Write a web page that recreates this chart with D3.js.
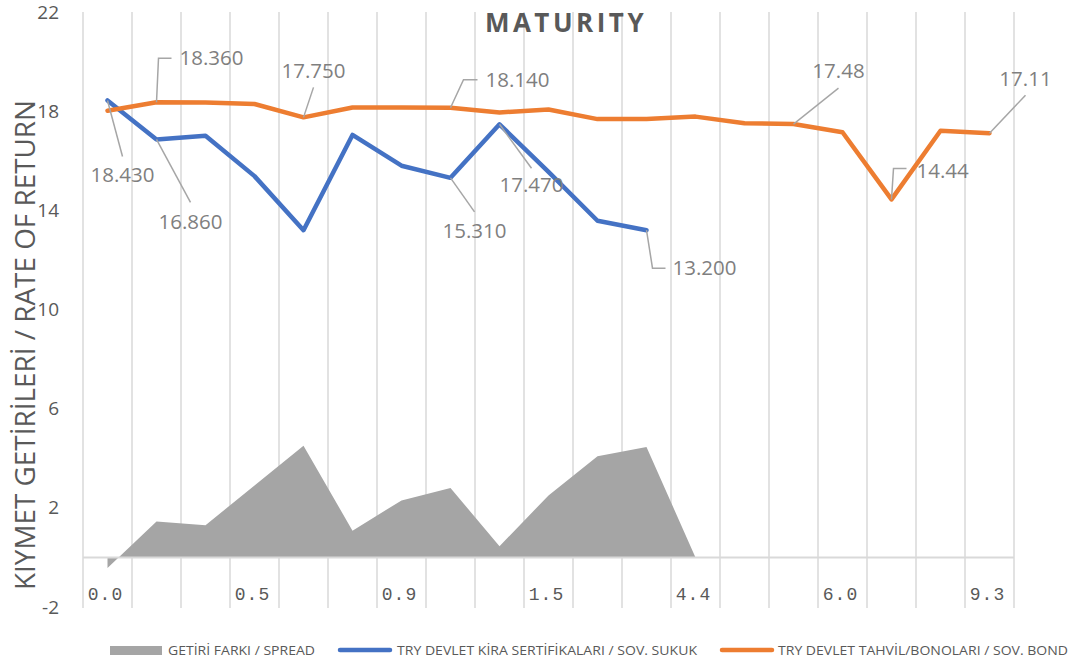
<!DOCTYPE html>
<html>
<head>
<meta charset="utf-8">
<script src="https://cdn.jsdelivr.net/npm/d3@7"></script>
<style>
  body { margin: 0; background: #fff; }
  svg { display: block; font-family: "Open Sans", sans-serif; }
</style>
</head>
<body>
<svg id="chart" width="1071" height="662"></svg>
<script>
// maturity tick labels, one per 3 categories
var tickLabels = ['0.0', '0.5', '0.9', '1.5', '4.4', '6.0', '9.3'];
var nCategories = 19;

var spread = [-0.43, 1.45, 1.3, 2.9, 4.5, 1.08, 2.3, 2.8, 0.45, 2.5, 4.08, 4.45, 0];
var sukuk = [18.43, 16.86, 17.01, 15.38, 13.2, 17.04, 15.8, 15.31, 17.47, 15.55, 13.58, 13.2];
var bond = [18.02, 18.36, 18.35, 18.29, 17.75, 18.15, 18.15, 18.14, 17.95, 18.07, 17.68, 17.68, 17.78, 17.51, 17.48, 17.15, 14.44, 17.21, 17.11];

var yTicks = [-2, 2, 6, 10, 14, 18, 22];

var legendNames = ['GETİRİ FARKI / SPREAD', 'TRY DEVLET KİRA SERTİFİKALARI / SOV. SUKUK', 'TRY DEVLET TAHVİL/BONOLARI / SOV. BOND'];

var colors = { spread: '#A5A5A5', sukuk: '#4472C4', bond: '#ED7D31' };

// data labels: which series/point, decimals, placement relative to the point
var dataLabels = [
  { s: 'sukuk', i: 0, dec: 3, dx: 15, dy: 74, anchor: 'middle', leader: [[0, 0], [15, 56]] },
  { s: 'sukuk', i: 1, dec: 3, dx: 34, dy: 82, anchor: 'middle', leader: [[0, 0], [34, 63]] },
  { s: 'bond', i: 1, dec: 3, dx: 23, dy: -44, anchor: 'start', leader: [[0, 0], [2, -44], [15, -44]] },
  { s: 'bond', i: 4, dec: 3, dx: 10, dy: -47, anchor: 'middle', leader: [[0, 0], [10, -30]] },
  { s: 'bond', i: 7, dec: 3, dx: 35, dy: -28, anchor: 'start', leader: [[0, 0], [13, -28], [27, -28]] },
  { s: 'sukuk', i: 7, dec: 3, dx: 24, dy: 53, anchor: 'middle', leader: [[0, 0], [24, 34]] },
  { s: 'sukuk', i: 8, dec: 3, dx: 32, dy: 61, anchor: 'middle', leader: [[0, 0], [32, 44]] },
  { s: 'sukuk', i: 11, dec: 3, dx: 26, dy: 38, anchor: 'start', leader: [[0, 0], [6, 38], [19, 38]] },
  { s: 'bond', i: 14, dec: 2, dx: 45, dy: -53, anchor: 'middle', leader: [[0, 0], [45, -36]] },
  { s: 'bond', i: 16, dec: 2, dx: 25, dy: -29, anchor: 'start', leader: [[0, 0], [2, -31], [15, -31]] },
  { s: 'bond', i: 18, dec: 2, dx: 36, dy: -54, anchor: 'middle', leader: [[0, 0], [36, -38]] }
];

var series = { spread: spread, sukuk: sukuk, bond: bond };

var svg = d3.select('#chart');

var x = d3.scaleBand()
  .domain(d3.range(nCategories))
  .range([83, 1014]);

var y = d3.scaleLinear()
  .domain([-2, 22])
  .range([607, 12]);

var cx = function(i) { return x(i) + x.bandwidth() / 2; };

// vertical gridlines at category borders
svg.append('g')
  .selectAll('line')
  .data(d3.range(nCategories + 1))
  .enter().append('line')
  .attr('x1', function(d) { return d < nCategories ? x(d) : x(nCategories - 1) + x.bandwidth(); })
  .attr('x2', function(d) { return d < nCategories ? x(d) : x(nCategories - 1) + x.bandwidth(); })
  .attr('y1', y(22))
  .attr('y2', y(-2) + 1)
  .attr('stroke', '#D9D9D9')
  .attr('stroke-width', 1.5);

// spread area
var area = d3.area()
  .x(function(d, i) { return cx(i); })
  .y0(y(0))
  .y1(function(d) { return y(d); });

svg.append('path')
  .datum(spread)
  .attr('d', area)
  .attr('fill', colors.spread);

// zero line
svg.append('line')
  .attr('x1', x(0))
  .attr('x2', x(nCategories - 1) + x.bandwidth())
  .attr('y1', y(0))
  .attr('y2', y(0))
  .attr('stroke', '#D9D9D9')
  .attr('stroke-width', 2);

var line = d3.line()
  .x(function(d, i) { return cx(i); })
  .y(function(d) { return y(d); });

['sukuk', 'bond'].forEach(function(k) {
  svg.append('path')
    .datum(series[k])
    .attr('d', line)
    .attr('fill', 'none')
    .attr('stroke', colors[k])
    .attr('stroke-width', 4.5)
    .attr('stroke-linejoin', 'round')
    .attr('stroke-linecap', 'round');
});

// data labels with leader lines
var lbl = svg.append('g').attr('class', 'labels');
dataLabels.forEach(function(l) {
  var px = cx(l.i), py = y(series[l.s][l.i]);
  lbl.append('polyline')
    .attr('points', l.leader.map(function(p) { return (px + p[0]) + ',' + (py + p[1]); }).join(' '))
    .attr('fill', 'none')
    .attr('stroke', '#A6A6A6')
    .attr('stroke-width', 1.5);
  lbl.append('text')
    .attr('x', px + l.dx)
    .attr('y', py + l.dy)
    .attr('dy', '0.35em')
    .attr('text-anchor', l.anchor)
    .attr('fill', '#7F7F7F')
    .attr('font-size', 20.5)
    .text(d3.format('.' + l.dec + 'f')(series[l.s][l.i]));
});

// y axis
var yAxis = svg.append('g')
  .attr('transform', 'translate(59,0)')
  .call(d3.axisLeft(y).tickValues(yTicks)
    .tickFormat(function(d) { return String(d); })
    .tickSize(0).tickPadding(0));
yAxis.select('.domain').remove();
yAxis.selectAll('text')
  .attr('font-family', '"Open Sans", sans-serif')
  .attr('font-size', 19)
  .attr('fill', '#595959');

// x axis
var xAxis = svg.append('g')
  .attr('transform', 'translate(-2,' + 587 + ')')
  .call(d3.axisBottom(x)
    .tickValues(d3.range(0, nCategories, 3))
    .tickFormat(function(i) { return tickLabels[i / 3]; })
    .tickSize(0).tickPadding(0));
xAxis.select('.domain').remove();
xAxis.selectAll('text')
  .attr('font-family', '"Liberation Mono", monospace')
  .attr('font-size', 18)
  .attr('letter-spacing', 1)
  .attr('fill', '#595959');

// title
svg.append('text')
  .attr('x', 566)
  .attr('y', 32)
  .attr('text-anchor', 'middle')
  .attr('font-size', 26)
  .attr('font-weight', 'bold')
  .attr('letter-spacing', 3.5)
  .attr('fill', '#595959')
  .text('MATURITY');

// y title
svg.append('text')
  .attr('transform', 'translate(35,345) rotate(-90)')
  .attr('text-anchor', 'middle')
  .attr('font-size', 27)
  .attr('fill', '#595959')
  .attr('textLength', 490)
  .attr('lengthAdjust', 'spacingAndGlyphs')
  .text('KIYMET GETİRİLERİ / RATE OF RETURN');

// legend
var legendPos = [
  { sx: 110, tx: 168, tw: 147 },
  { sx: 338, tx: 397, tw: 300 },
  { sx: 720, tx: 778, tw: 290 }
];
var lg = svg.append('g');
['spread', 'sukuk', 'bond'].forEach(function(k, i) {
  var p = legendPos[i];
  if (k === 'spread') {
    lg.append('rect')
      .attr('x', p.sx).attr('y', 646)
      .attr('width', 52).attr('height', 9)
      .attr('fill', colors.spread);
  } else {
    lg.append('line')
      .attr('x1', p.sx + 2).attr('x2', p.sx + 52)
      .attr('y1', 650).attr('y2', 650)
      .attr('stroke', colors[k])
      .attr('stroke-width', 4.5)
      .attr('stroke-linecap', 'round');
  }
  lg.append('text')
    .attr('x', p.tx)
    .attr('y', 650)
    .attr('dy', '0.35em')
    .attr('font-size', 13)
    .attr('fill', '#595959')
    .attr('textLength', p.tw)
    .attr('lengthAdjust', 'spacingAndGlyphs')
    .text(legendNames[i]);
});
</script>
</body>
</html>
